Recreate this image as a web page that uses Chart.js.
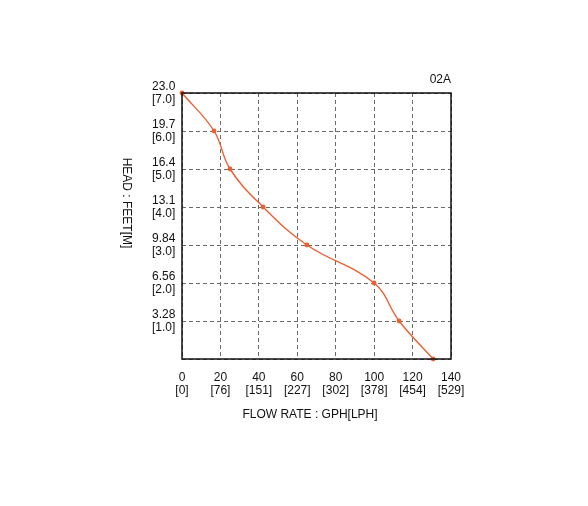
<!DOCTYPE html>
<html>
<head>
<meta charset="utf-8">
<script src="https://cdn.jsdelivr.net/npm/chart.js@4/dist/chart.umd.min.js"></script>
<style>
  html, body { margin: 0; padding: 0; background: #fff; }
  #wrap { width: 588px; height: 506px; }
</style>
</head>
<body>
<div id="wrap"><canvas id="c" width="588" height="506"></canvas></div>
<script>
// ---- data ----
const flowGPH = [0, 16.7, 25, 42.2, 65, 100, 113, 130.7];
const headM   = [7, 6, 5, 4, 3, 2, 1, 0];
const xTickGPH = [0, 20, 40, 60, 80, 100, 120, 140];
const xTickLPH = ["[0]", "[76]", "[151]", "[227]", "[302]", "[378]", "[454]", "[529]"];
const yTickFeet = ["", "3.28", "6.56", "9.84", "13.1", "16.4", "19.7", "23.0"];
const yTickM    = ["", "[1.0]", "[2.0]", "[3.0]", "[4.0]", "[5.0]", "[6.0]", "[7.0]"];
const modelName = "02A";
const xTitle = "FLOW RATE : GPH[LPH]";
const yTitle = "HEAD : FEET[M]";

const FONT = "'Liberation Sans', Arial, sans-serif";
const LINE = "#ee5f30";

const points = flowGPH.map((x, i) => ({ x: x, y: headM[i] }));

const extras = {
  id: 'extras',
  afterDraw(chart) {
    const { ctx, chartArea: a } = chart;
    ctx.save();
    ctx.strokeStyle = '#111';
    ctx.lineWidth = 1.5;
    ctx.setLineDash([]);
    ctx.strokeRect(a.left, a.top, a.right - a.left, a.bottom - a.top);
    ctx.fillStyle = '#111';
    ctx.font = '12px ' + FONT;
    ctx.textBaseline = 'middle';
    ctx.textAlign = 'right';
    ctx.fillText(modelName, a.right, a.top - 13);
    ctx.textAlign = 'center';
    ctx.fillText(xTitle, 310, 415);
    ctx.translate(126, 203);
    ctx.rotate(Math.PI / 2);
    ctx.fillText(yTitle, 0, 0);
    ctx.restore();
  }
};

new Chart(document.getElementById('c'), {
  type: 'line',
  data: {
    datasets: [{
      data: points,
      borderColor: LINE,
      backgroundColor: LINE,
      borderWidth: 1.4,
      pointRadius: 2.4,
      pointHoverRadius: 2.4,
      pointBorderWidth: 0,
      tension: 0.4,
      clip: false,
      fill: false
    }]
  },
  options: {
    responsive: false,
    animation: false,
    events: [],
    layout: { padding: { left: 152, top: 93, right: 137, bottom: 87 } },
    plugins: { legend: { display: false }, tooltip: { enabled: false } },
    scales: {
      x: {
        type: 'linear',
        min: 0, max: 140,
        afterBuildTicks(scale) { scale.ticks = xTickGPH.map(v => ({ value: v })); },
        afterFit(scale) { scale.height = 60; },
        border: { display: false, dash: [4, 3] },
        grid: { color: '#6a6a6a', lineWidth: 1, drawTicks: false },
        ticks: {
          padding: 12,
          color: '#111',
          font: { family: FONT, size: 12, lineHeight: 1.12 },
          maxRotation: 0,
          autoSkip: false,
          callback(v) { const i = xTickGPH.indexOf(v); return [String(v), xTickLPH[i]]; }
        }
      },
      y: {
        type: 'linear',
        min: 0, max: 7,
        afterBuildTicks(scale) { scale.ticks = headM.slice().reverse().map(v => ({ value: v })); },
        afterFit(scale) { scale.width = 30; },
        border: { display: false, dash: [4, 3] },
        grid: { color: '#6a6a6a', lineWidth: 1, drawTicks: false },
        ticks: {
          crossAlign: 'far',
          padding: 4,
          color: '#111',
          font: { family: FONT, size: 12, lineHeight: 1.12 },
          autoSkip: false,
          callback(v) { if (v === 0) return ''; return [yTickFeet[v], yTickM[v]]; }
        }
      }
    }
  },
  plugins: [extras]
});
</script>
</body>
</html>
